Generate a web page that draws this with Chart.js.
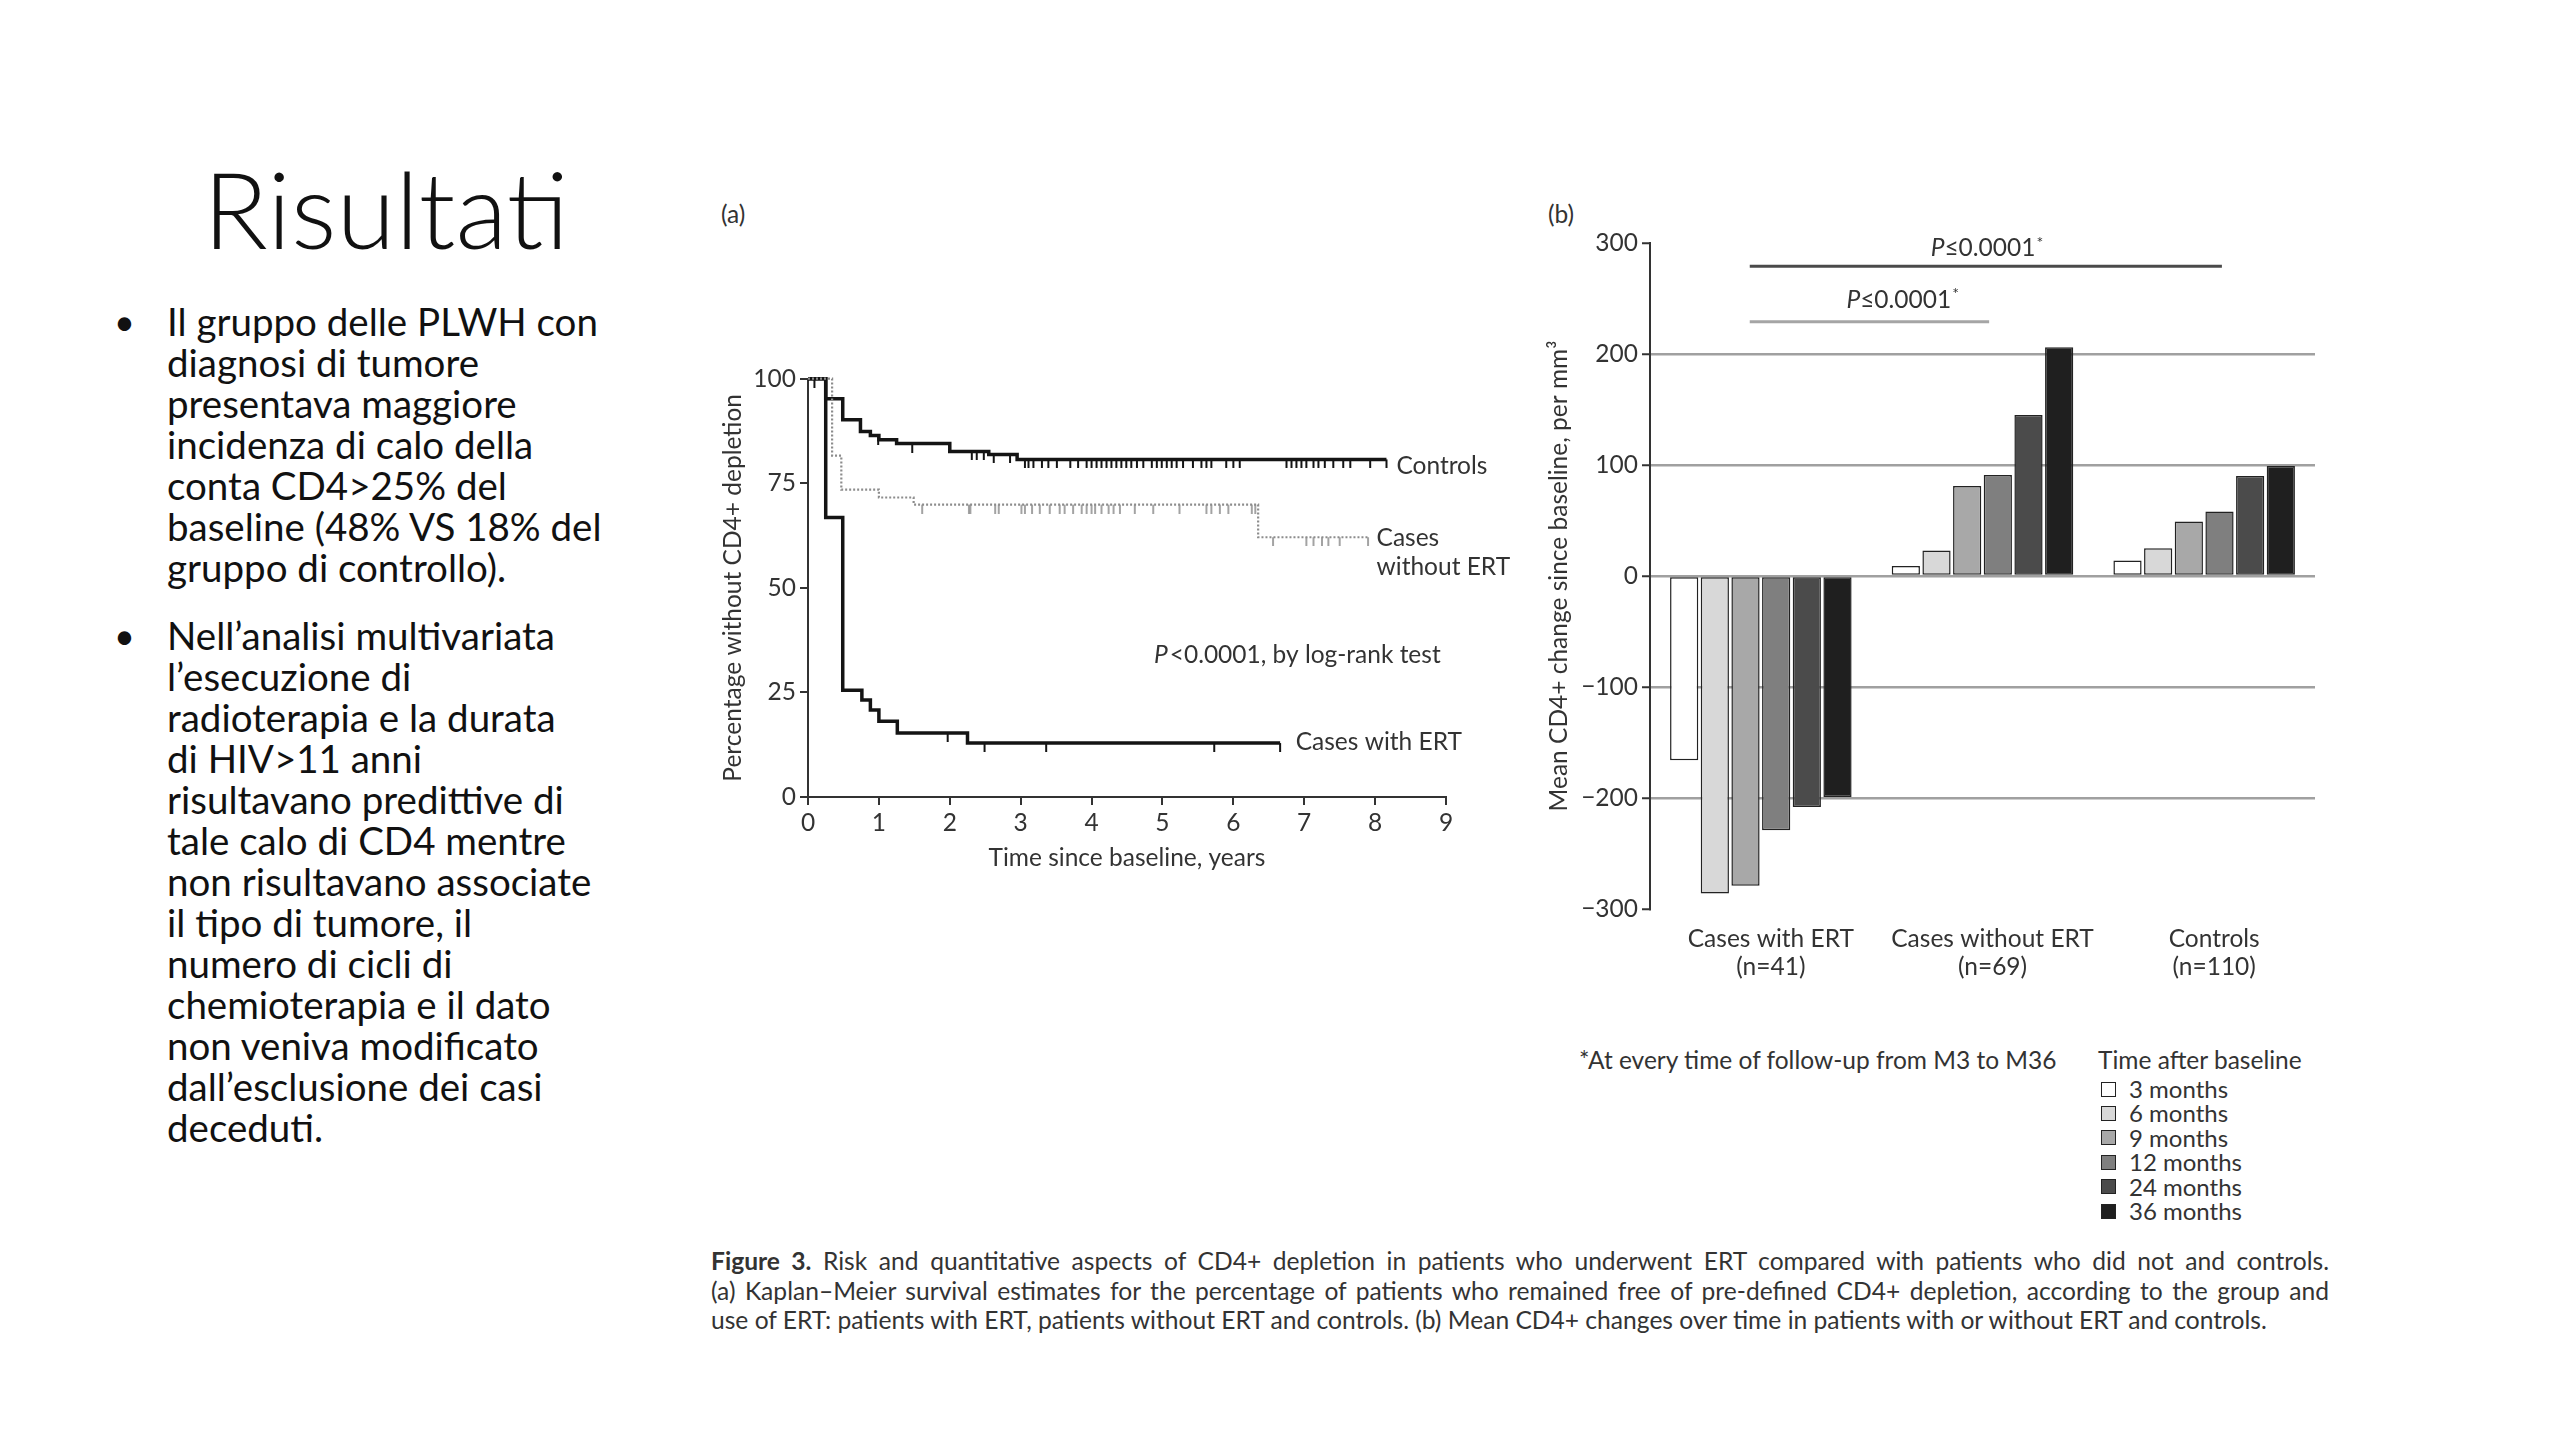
<!DOCTYPE html>
<html lang="it">
<head>
<meta charset="utf-8">
<title>Risultati</title>
<script src="https://cdn.jsdelivr.net/npm/chart.js@4.4.1/dist/chart.umd.min.js"></script>
<style>
  html, body { margin: 0; padding: 0; background: #fff; }
  body { width: 2560px; height: 1440px; position: relative; overflow: hidden; font-family: Lato, "Open Sans", sans-serif; color: #111; }
  .abs { position: absolute; white-space: nowrap; }
  #title { left: 186px; top: 154px; width: 400px; text-align: center; font-size: 107px; line-height: 107px; font-weight: 300; }
  .para { left: 167px; font-size: 38.5px; line-height: 41px; }
  .dot { left: 114px; font-size: 36px; line-height: 41px; }
  .fig { font-size: 24.5px; line-height: 30px; color: #333; }
  #caption { left: 711px; top: 1246px; width: 1618px; font-size: 24.6px; line-height: 29.5px; color: #333; white-space: nowrap; }
  #caption .j { text-align: justify; text-align-last: justify; white-space: normal; }
  #legend { left: 2101px; top: 1077px; font-size: 24px; color: #333; }
  #legend .row { height: 24.4px; line-height: 24.4px; display: flex; align-items: center; }
  #legend .box { width: 13px; height: 13px; border: 1.5px solid #222; margin-right: 13px; }
  .panel { position: absolute; }
</style>
</head>
<body>

<div class="abs" id="title">Risultati</div>

<div class="abs dot" style="top:301px">•</div>
<div class="abs para" style="top:301px">Il gruppo delle PLWH con<br>diagnosi di tumore<br>presentava maggiore<br>incidenza di calo della<br>conta CD4&gt;25% del<br>baseline (48% VS 18% del<br>gruppo di controllo).</div>

<div class="abs dot" style="top:615px">•</div>
<div class="abs para" style="top:615px">Nell’analisi multivariata<br>l’esecuzione di<br>radioterapia e la durata<br>di HIV&gt;11 anni<br>risultavano predittive di<br>tale calo di CD4 mentre<br>non risultavano associate<br>il tipo di tumore, il<br>numero di cicli di<br>chemioterapia e il dato<br>non veniva modificato<br>dall’esclusione dei casi<br>deceduti.</div>

<div class="abs fig" style="left:721px; top:199px">(a)</div>
<div class="abs fig" style="left:1548px; top:199px">(b)</div>

<div class="panel" style="left:700px; top:360px; width:845px; height:520px">
  <canvas id="kmChart" width="845" height="520"></canvas>
</div>
<div class="panel" style="left:1540px; top:200px; width:800px; height:790px">
  <canvas id="barChart" width="800" height="790"></canvas>
</div>

<div class="abs fig" style="left:1579px; top:1045px">*At every time of follow-up from M3 to M36</div>
<div class="abs fig" style="left:2098px; top:1045px">Time after baseline</div>
<div class="abs" id="legend"></div>

<div class="abs" id="caption">
  <div class="j"><b>Figure 3.</b> Risk and quantitative aspects of CD4+ depletion in patients who underwent ERT compared with patients who did not and controls.</div>
  <div class="j">(a) Kaplan–Meier survival estimates for the percentage of patients who remained free of pre-defined CD4+ depletion, according to the group and</div>
  <div>use of ERT: patients with ERT, patients without ERT and controls. (b) Mean CD4+ changes over time in patients with or without ERT and controls.</div>
</div>

<script>
// (a) Kaplan-Meier curves: step times (years) and % free of CD4+ depletion after each step
const controlsTimes = [0, 0.25, 0.49, 0.74, 0.88, 1.0, 1.25, 2.0, 2.55, 2.95, 8.16];
const controlsSurv = [100, 95.2, 90.2, 87.4, 86.4, 85.4, 84.5, 82.6, 81.9, 80.7, 80.7];
const controlsCensored = [0.09, 0.99, 1.47, 2.31, 2.38, 2.48, 2.62, 2.85, 3.06, 3.11, 3.18, 3.30, 3.39, 3.51, 3.70,
  3.81, 3.93, 4.00, 4.07, 4.14, 4.21, 4.28, 4.35, 4.42, 4.49, 4.56, 4.64, 4.73, 4.85, 4.92, 4.99, 5.06, 5.13,
  5.20, 5.29, 5.43, 5.55, 5.62, 5.69, 5.90, 6.00, 6.09, 6.75, 6.82, 6.89, 6.96, 7.03, 7.13, 7.20, 7.29, 7.41,
  7.55, 7.65, 7.93, 8.16];

const noErtTimes = [0, 0.34, 0.47, 1.0, 1.49, 6.35, 7.9];
const noErtSurv = [100, 81.6, 73.5, 71.6, 69.9, 62.1, 62.1];
const noErtCensored = [1.61, 2.27, 2.29, 2.64, 2.69, 3.01, 3.06, 3.16, 3.27, 3.41, 3.55, 3.62, 3.74, 3.86, 3.93,
  4.00, 4.05, 4.14, 4.24, 4.31, 4.40, 4.61, 4.87, 5.24, 5.62, 5.69, 5.81, 5.93, 6.26, 6.31, 6.56, 7.03, 7.13,
  7.25, 7.34, 7.50, 7.90];

const ertTimes = [0, 0.25, 0.49, 0.76, 0.88, 1.0, 1.26, 2.25, 6.66];
const ertSurv = [100, 66.8, 25.5, 23.2, 20.8, 18.1, 15.3, 12.9, 12.9];
const ertCensored = [1.97, 2.49, 3.36, 5.73, 6.66];

// (b) mean CD4+ change since baseline, per mm3
const groups = [["Cases with ERT", "(n=41)"], ["Cases without ERT", "(n=69)"], ["Controls", "(n=110)"]];
const months = ["3 months", "6 months", "9 months", "12 months", "24 months", "36 months"];
const change3m = [-166, 9, 14];
const change6m = [-286, 23, 25];
const change9m = [-279, 81, 49];
const change12m = [-229, 91, 58];
const change24m = [-208, 145, 90];
const change36m = [-199, 206, 99];
const monthValues = [change3m, change6m, change9m, change12m, change24m, change36m];
const monthColors = ["#ffffff", "#d8d8d8", "#a8a8a8", "#7f7f7f", "#4b4b4b", "#1f1f1f"];

const FONT = "Lato, 'Open Sans', sans-serif";
const FS = 24.5;
Chart.defaults.font.family = FONT;
Chart.defaults.font.size = FS;
Chart.defaults.color = "#333";

function stepPoints(times, surv) {
  return times.map((t, i) => ({ x: t, y: surv[i] }));
}

// value of the KM step function at time t (where the censor mark sits)
function censorPoints(times, surv, censored) {
  return censored.map(t => {
    let v = surv[0];
    for (let i = 0; i < times.length; i++) {
      if (times[i] <= t) v = surv[i];
    }
    return { x: t, y: v };
  });
}

// small tick hanging below the curve
function censorMark(color, lw, len) {
  const c = document.createElement("canvas");
  c.width = 6;
  c.height = len * 2;
  const g = c.getContext("2d");
  g.strokeStyle = color;
  g.lineWidth = lw;
  g.beginPath();
  g.moveTo(3, len);
  g.lineTo(3, len * 2);
  g.stroke();
  return c;
}

const kmLabels = [
  { text: "Controls", x: 8.3, y: 79.2 },
  { text: "Cases", x: 8.02, y: 62 },
  { text: "without ERT", x: 8.02, y: 54.9 },
  { text: "Cases with ERT", x: 6.88, y: 13.1 },
];

const kmTextPlugin = {
  id: "kmText",
  afterDatasetsDraw(chart) {
    const { ctx, scales: { x, y } } = chart;
    ctx.save();
    ctx.fillStyle = "#333";
    ctx.textBaseline = "middle";
    ctx.textAlign = "left";
    ctx.font = FS + "px " + FONT;
    kmLabels.forEach(l => ctx.fillText(l.text, x.getPixelForValue(l.x), y.getPixelForValue(l.y)));
    // log-rank note
    const px = x.getPixelForValue(4.88), py = y.getPixelForValue(34);
    ctx.font = "italic " + FS + "px " + FONT;
    ctx.fillText("P", px, py);
    const w = ctx.measureText("P").width;
    ctx.font = FS + "px " + FONT;
    ctx.fillText("<0.0001, by log-rank test", px + w + 2, py);
    ctx.restore();
  },
};

function curve(data, color, width, dash) {
  return {
    type: "scatter", data, showLine: true, stepped: "before", borderColor: color,
    borderWidth: width, borderDash: dash || [], pointRadius: 0, clip: false,
  };
}

function marks(data, color, lw) {
  return {
    type: "scatter", data, showLine: false, pointStyle: censorMark(color, lw, 9),
    pointRadius: 4, clip: false,
  };
}

new Chart(document.getElementById("kmChart"), {
  type: "scatter",
  data: {
    datasets: [
      curve(stepPoints(noErtTimes, noErtSurv), "#8c8c8c", 2.2, [2, 2]),
      marks(censorPoints(noErtTimes, noErtSurv, noErtCensored), "#8c8c8c", 1.6),
      curve(stepPoints(controlsTimes, controlsSurv), "#141414", 3.5),
      marks(censorPoints(controlsTimes, controlsSurv, controlsCensored), "#141414", 2),
      curve(stepPoints(ertTimes, ertSurv), "#141414", 3.5),
      marks(censorPoints(ertTimes, ertSurv, ertCensored), "#141414", 2),
    ],
  },
  options: {
    responsive: false,
    animation: false,
    devicePixelRatio: 1,
    layout: { padding: { left: 0, right: 99, top: 18, bottom: 0 } },
    plugins: { legend: { display: false }, tooltip: { enabled: false } },
    scales: {
      x: {
        type: "linear", min: 0, max: 9,
        afterFit: s => { s.height = 83; },
        ticks: { stepSize: 1, padding: 3 },
        grid: { drawOnChartArea: false, drawTicks: true, tickLength: 8, color: "#333", lineWidth: 2 },
        border: { display: true, color: "#333", width: 2 },
        title: { display: true, text: "Time since baseline, years", padding: { top: 0, bottom: 7 } },
      },
      y: {
        type: "linear", min: 0, max: 100,
        afterFit: s => { s.width = 108; },
        ticks: { stepSize: 25, padding: 4 },
        grid: { drawOnChartArea: false, drawTicks: true, tickLength: 8, color: "#333", lineWidth: 2 },
        border: { display: true, color: "#333", width: 2 },
        title: { display: true, text: "Percentage without CD4+ depletion", padding: { top: 18, bottom: 0 } },
      },
    },
  },
  plugins: [kmTextPlugin],
});

// significance bars: from / to (category units), height, label position
const sigBars = [
  { from: -0.05, to: 1.03, y: 229, color: "#a5a5a5", labelX: 0.64, labelY: 249 },
  { from: -0.05, to: 2.08, y: 279, color: "#4a4a4a", labelX: 1.02, labelY: 295 },
];

const sigPlugin = {
  id: "sig",
  afterDatasetsDraw(chart) {
    const { ctx, scales: { x, y } } = chart;
    ctx.save();
    sigBars.forEach(b => {
      const yy = y.getPixelForValue(b.y);
      ctx.strokeStyle = b.color;
      ctx.lineWidth = 3;
      ctx.beginPath();
      ctx.moveTo(x.getPixelForValue(b.from), yy);
      ctx.lineTo(x.getPixelForValue(b.to), yy);
      ctx.stroke();

      ctx.fillStyle = "#333";
      ctx.textBaseline = "middle";
      ctx.textAlign = "left";
      ctx.font = "italic " + FS + "px " + FONT;
      const wP = ctx.measureText("P").width;
      ctx.font = FS + "px " + FONT;
      const wR = ctx.measureText("\u22640.0001").width;
      ctx.font = "16px " + FONT;
      const wS = ctx.measureText("*").width;
      const total = wP + wR + wS + 1;
      let px = x.getPixelForValue(b.labelX) - total / 2;
      const py = y.getPixelForValue(b.labelY);
      ctx.font = "italic " + FS + "px " + FONT;
      ctx.fillText("P", px, py);
      px += wP;
      ctx.font = FS + "px " + FONT;
      ctx.fillText("\u22640.0001", px, py);
      px += wR + 1;
      ctx.font = "16px " + FONT;
      ctx.fillText("*", px, py - 6);
    });
    ctx.restore();
  },
};

new Chart(document.getElementById("barChart"), {
  type: "bar",
  data: {
    labels: groups,
    datasets: months.map((m, i) => ({
      label: m,
      data: monthValues[i],
      backgroundColor: monthColors[i],
      borderColor: "#222",
      borderWidth: 1.5,
      borderSkipped: false,
      categoryPercentage: 0.83,
      barPercentage: 0.92,
    })),
  },
  options: {
    responsive: false,
    animation: false,
    devicePixelRatio: 1,
    layout: { padding: { left: 0, right: 25, top: 43, bottom: 0 } },
    plugins: { legend: { display: false }, tooltip: { enabled: false } },
    scales: {
      x: {
        afterFit: s => { s.height = 81; },
        ticks: { padding: 16, labelOffset: 10, font: { lineHeight: 1.15 } },
        grid: { display: false, drawTicks: false },
        border: { display: false },
      },
      y: {
        min: -300, max: 300,
        afterFit: s => { s.width = 110; },
        ticks: {
          stepSize: 100, padding: 4,
          callback: v => (v < 0 ? "\u2212" + Math.abs(v) : v),
        },
        grid: {
          color: c => (c.tick && Math.abs(c.tick.value) === 300 ? "rgba(0,0,0,0)" : "#a0a0a0"),
          lineWidth: 2.5, tickColor: "#333", tickWidth: 2, tickLength: 8,
        },
        border: { display: true, color: "#333", width: 2 },
        title: { display: true, text: "Mean CD4+ change since baseline, per mm\u00b3", padding: { top: 4, bottom: 0 } },
      },
    },
  },
  plugins: [sigPlugin],
});

// legend built from the same month arrays
const legend = document.getElementById("legend");
months.forEach((m, i) => {
  const row = document.createElement("div");
  row.className = "row";
  const box = document.createElement("span");
  box.className = "box";
  box.style.background = monthColors[i];
  row.appendChild(box);
  row.appendChild(document.createTextNode(m));
  legend.appendChild(row);
});
</script>
</body>
</html>
